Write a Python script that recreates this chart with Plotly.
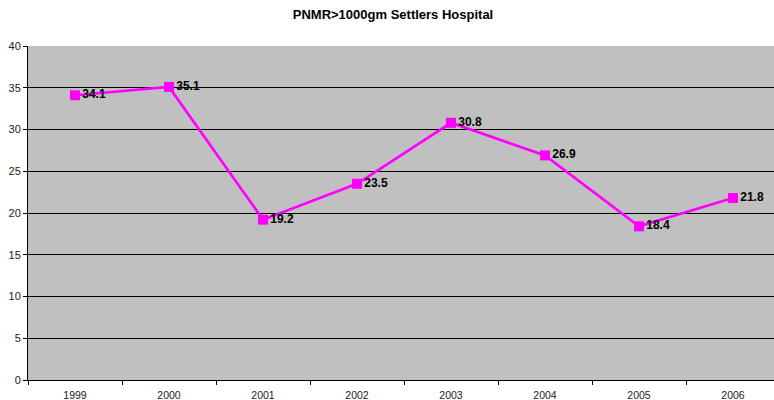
import plotly.graph_objects as go

years = ["1999", "2000", "2001", "2002", "2003", "2004", "2005", "2006"]
pnmr = [34.1, 35.1, 19.2, 23.5, 30.8, 26.9, 18.4, 21.8]
y_ticks = [0, 5, 10, 15, 20, 25, 30, 35, 40]

fig = go.Figure()
fig.add_trace(go.Scatter(
    x=years, y=pnmr, mode="lines+markers+text",
    text=[f"<b>{v}</b>" for v in pnmr],
    textposition="middle right",
    textfont=dict(family="Liberation Sans, Arial", size=12, color="black"),
    line=dict(color="#FF00FF", width=2.7),
    marker=dict(symbol="square", size=10, color="#FF00FF"),
    cliponaxis=False,
))

fig.update_layout(
    width=774, height=400,
    margin=dict(l=28, r=0, t=46, b=20, autoexpand=False),
    paper_bgcolor="white", plot_bgcolor="#C0C0C0",
    showlegend=False,
    font=dict(family="Liberation Sans, Arial", size=11, color="black"),
    title=dict(text="<b>PNMR>1000gm Settlers Hospital</b>", x=393 / 774, xanchor="center",
               xref="container", yref="container", y=1 - 14 / 400, yanchor="middle",
               font=dict(size=13, color="black")),
)
fig.update_xaxes(
    type="category", range=[-0.5, 7.436], showgrid=False, automargin=False,
    showline=True, linecolor="black", linewidth=1,
    ticks="outside", tickson="boundaries", ticklen=4, tickcolor="black",
    ticklabelstandoff=5,
    tickfont=dict(size=10.5, color="#222"),
)
fig.update_yaxes(
    range=[0, 40], tickvals=y_ticks, showgrid=True, gridcolor="black", gridwidth=1,
    showline=True, linecolor="black", linewidth=1, zeroline=False, automargin=False,
    ticks="outside", ticklen=4, tickcolor="black",
    tickfont=dict(size=11, color="#222"),
)
fig.write_html("out.html", config={"displayModeBar": False},
               post_script="document.body.style.margin='0';document.body.style.padding='0';document.body.style.overflow='hidden';")
